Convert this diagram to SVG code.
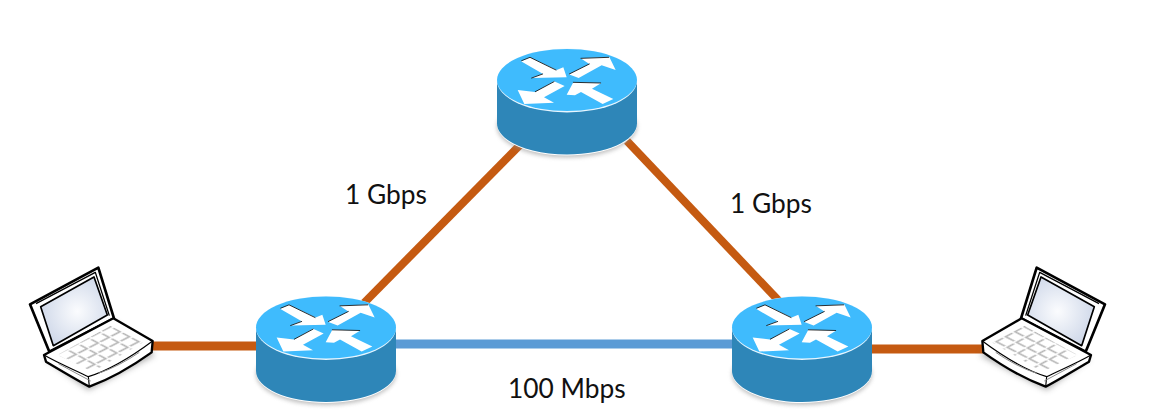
<svg xmlns="http://www.w3.org/2000/svg" width="1152" height="420" viewBox="0 0 1152 420">
<style>
.link{fill:none;stroke-linecap:butt}
.orange{stroke:#C55A11}
.blue{stroke:#5B9BD5}
.lbl{font-family:Lato,"Open Sans",sans-serif;font-size:26.3px;fill:#111}
.arrow{fill:#fff}
.edge{fill:none;stroke:#111;stroke-width:2.6;stroke-linecap:round;stroke-linejoin:round}
.ln{fill:none;stroke:#000;stroke-linejoin:round}
</style>
<defs>
<filter id="soft" x="-20%" y="-20%" width="140%" height="140%"><feGaussianBlur stdDeviation="2.2"/></filter>
<filter id="soft2" x="-20%" y="-20%" width="140%" height="140%"><feGaussianBlur stdDeviation="9"/></filter>
<radialGradient id="scr" cx="0.55" cy="0.5" r="0.65"><stop offset="0" stop-color="#fbfcfe"/><stop offset="1" stop-color="#c9d3e6"/></radialGradient>
<pattern id="keys" patternUnits="userSpaceOnUse" width="33" height="30" patternTransform="matrix(1 -0.515 0.933 0.5 115 300)">
<rect width="33" height="30" fill="#fff"/>
<path d="M3 26H29V4" fill="none" stroke="#b5b5b5" stroke-width="5"/>
</pattern>
<g id="router">
<ellipse cx="0" cy="46" rx="70" ry="31" fill="#8a8a8a" opacity=".55" filter="url(#soft)"/>
<path d="M-70 0V44C-70 61 -39 75 0 75S70 61 70 44V0Z" fill="#fff"/>
<path d="M-70 0V43C-70 60 -39 74 0 74S70 60 70 43V0Z" fill="#2E86B8"/>
<ellipse cx="0" cy="0" rx="70" ry="32" fill="#e8f6ff"/>
<ellipse cx="0" cy="-.5" rx="70" ry="31" fill="#3FBBFD"/>
<g transform="scale(.3333) translate(-261 -121.5)">
<polygon class="arrow" points="123,64 150,52 230,90 250,82 260,112 155,114 188,101"/>
<polygon class="arrow" points="266,103 328,72 302,55 388,51 407,90 365,76 296,114"/>
<polygon class="arrow" points="222,124 254,138 192,172 222,188 133,192 113,150 165,156"/>
<polygon class="arrow" points="400,177 368,192 303,156 285,166 260,164 280,127 364,129 336,146"/>
<path class="edge" d="M125 62L150 52L228 90M268 102L328 72M303 55L386 52M222 125L166 155M280 127L362 129M155 114L188 102"/>
</g>
</g>
<g id="laptop">
<path d="M75 310L205 405L405 300L280 200Z" fill="#555" opacity=".5" filter="url(#soft2)"/>
<polygon points="30,148 235,38 282,190 85,295" fill="#fff"/>
<path class="ln" stroke-width="8" d="M30 148L235 38L282 190L88 290Z"/>
<path class="ln" stroke-width="4" d="M48 146L226 52L268 182"/>
<polygon points="62,155 222,66 262,180 100,272" fill="url(#scr)" stroke="#000" stroke-width="5" stroke-linejoin="round"/>
<path d="M72 300L78 320C120 345 165 372 208 395C270 372 335 335 395 292L398 258L280 190Z" fill="#fff"/>
<path class="ln" stroke-width="7" d="M72 300L280 190L398 258L395 292C335 335 270 372 208 395C165 372 120 345 78 320Z"/>
<path class="ln" stroke-width="3.5" d="M72 300C115 325 165 345 205 365C270 345 335 305 398 258M205 365L208 395"/>
<polygon points="112,300 272,212 370,262 218,350" fill="url(#keys)"/>
<path d="M115 326L212 378M235 355C280 340 320 318 358 292" fill="none" stroke="#8a8a8a" stroke-width="3"/>
</g>
</defs>

<g id="connectors">
<line class="link orange" x1="364" y1="303" x2="522" y2="143" stroke-width="8"/>
<line class="link orange" x1="627" y1="141" x2="779" y2="301" stroke-width="8"/>
<line class="link orange" x1="153" y1="346" x2="257" y2="346" stroke-width="9"/>
<line class="link blue" x1="396" y1="344" x2="733" y2="344" stroke-width="9"/>
<line class="link orange" x1="871" y1="349" x2="985" y2="349" stroke-width="9"/>
</g>

<g id="router-top"><use href="#router" transform="translate(567 80.5)"/></g>
<g id="router-left"><use href="#router" transform="translate(326 328)"/></g>
<g id="router-right"><use href="#router" transform="translate(802 328)"/></g>
<g id="laptop-left"><use href="#laptop" transform="translate(20 255) scale(.3333)"/></g>
<g id="laptop-right"><use href="#laptop" transform="translate(1115 255) scale(-.3333 .3333)"/></g>

<g id="labels">
<text class="lbl" x="345" y="204">1 Gbps</text>
<text class="lbl" x="730" y="213">1 Gbps</text>
<text class="lbl" x="508" y="398">100 Mbps</text>
</g>
</svg>
